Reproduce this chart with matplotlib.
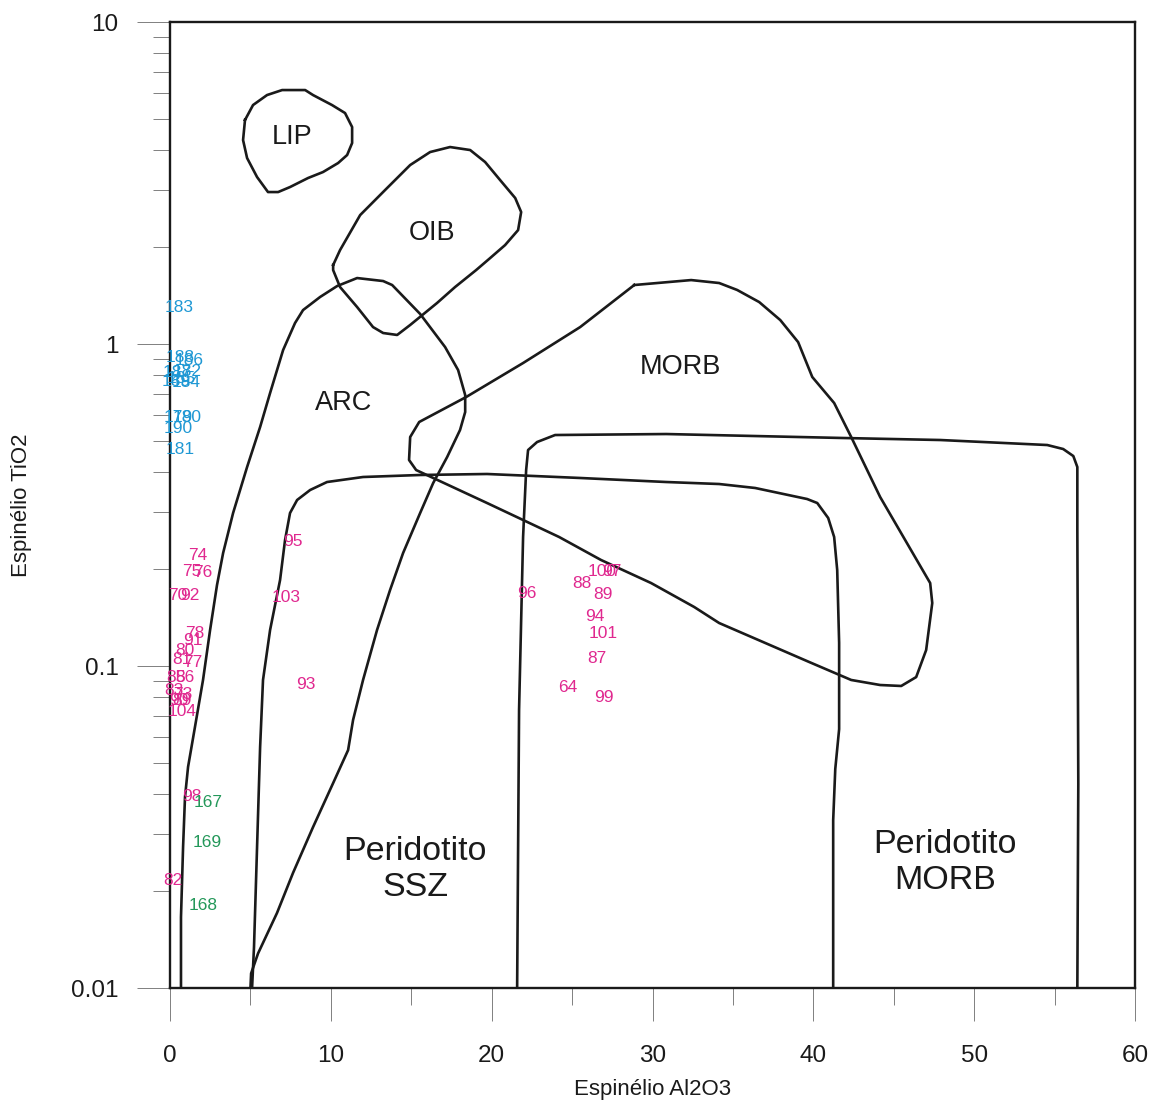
'''Spinel Al2O3 vs TiO2 discrimination diagram.'''
import matplotlib
matplotlib.use('Agg')
import matplotlib.pyplot as plt
from matplotlib.ticker import FixedLocator, NullFormatter, FuncFormatter

plt.rcParams['font.family'] = ['Liberation Sans', 'DejaVu Sans']

# field boundaries (Al2O3 wt%, TiO2 wt%)
lip_x = [4.66, 5.16, 6.03, 6.97, 8.40, 8.89, 10.07, 10.88, 11.32, 11.32, 11.01, 10.45,
         9.51, 8.58, 7.46, 6.72, 6.09, 5.41, 4.79, 4.54, 4.66]
lip_y = [4.963, 5.524, 5.933, 6.149, 6.149, 5.933, 5.524, 5.217, 4.720, 4.210, 3.864, 3.649,
         3.421, 3.278, 3.073, 2.965, 2.965, 3.301, 3.781, 4.300, 4.963]

oib_x = [10.14, 10.57, 11.82, 13.37, 14.93, 16.17, 17.41, 18.66, 19.59, 20.52, 21.46, 21.83,
         21.64, 20.83, 19.90, 19.03, 17.72, 16.60, 14.93, 14.12, 13.25, 12.62, 11.63, 10.57,
         10.14, 10.14]
oib_y = [1.759, 1.958, 2.515, 3.008, 3.597, 3.947, 4.091, 4.004, 3.675, 3.231, 2.841, 2.570,
         2.259, 2.029, 1.849, 1.697, 1.503, 1.341, 1.146, 1.067, 1.082, 1.129, 1.303, 1.503,
         1.697, 1.759]

arc_x = [0.68, 0.68, 0.81, 0.93, 1.12, 1.55, 2.05, 2.49, 2.92, 3.30, 3.92, 4.79, 5.60, 6.22,
         7.03, 7.77, 8.27, 9.33, 10.39, 11.63, 13.25, 13.81, 15.55, 17.10, 17.91, 18.35, 18.35,
         18.03, 17.23, 16.36, 15.55, 14.49, 13.68, 12.87, 12.00, 11.38, 11.07, 10.14, 8.89,
         7.65, 6.65, 5.47, 5.04, 5.00]
arc_y = [0.01, 0.0166, 0.0274, 0.0392, 0.0486, 0.0647, 0.0905, 0.1294, 0.1785, 0.2244, 0.2987,
         0.4150, 0.5525, 0.7044, 0.9581, 1.162, 1.275, 1.400, 1.514, 1.603, 1.569, 1.525, 1.240,
         0.9788, 0.8303, 0.6944, 0.6149, 0.5408, 0.4459, 0.3701, 0.2987, 0.2244, 0.1722, 0.1294,
         0.0905, 0.0680, 0.0548, 0.0433, 0.0316, 0.0228, 0.0171, 0.0128, 0.0111, 0.01]

morb_x = [28.86, 32.40, 34.14, 35.26, 36.63, 37.94, 39.05, 39.93, 41.29, 42.35, 44.15, 47.26,
          47.39, 47.01, 46.39, 45.46, 44.15, 42.35, 39.74, 34.14, 32.59, 29.91, 26.80, 24.19,
          19.71, 15.30, 14.86, 14.93, 15.49, 18.41, 21.95, 25.50, 28.86]
morb_y = [1.525, 1.580, 1.547, 1.472, 1.350, 1.187, 1.014, 0.790, 0.6559, 0.5143, 0.3349,
          0.1810, 0.1569, 0.1121, 0.0924, 0.0867, 0.0873, 0.0905, 0.1029, 0.1360, 0.1525,
          0.1810, 0.2134, 0.2516, 0.3208, 0.4061, 0.4364, 0.5143, 0.5726, 0.6846, 0.8730,
          1.129, 1.525]

ssz_x = [5.10, 5.22, 5.41, 5.60, 5.78, 6.22, 6.84, 7.15, 7.46, 7.90, 8.71, 9.76, 12.00, 15.55,
         19.71, 25.50, 30.85, 34.14, 36.38, 39.61, 40.24, 40.92, 41.29, 41.48, 41.60, 41.60,
         41.36, 41.23, 41.23]
ssz_y = [0.01, 0.0134, 0.0274, 0.0560, 0.0905, 0.1294, 0.1849, 0.2462, 0.2987, 0.3278, 0.3521,
         0.3728, 0.3864, 0.3920, 0.3948, 0.3837, 0.3728, 0.3675, 0.3572, 0.3301, 0.3208,
         0.2882, 0.2516, 0.1987, 0.1179, 0.0637, 0.0479, 0.0332, 0.01]

pmorb_x = [21.58, 21.70, 21.95, 22.14, 22.26, 22.82, 23.94, 30.85, 41.92, 47.89, 54.54, 55.53,
           56.16, 56.41, 56.41, 56.47, 56.41]
pmorb_y = [0.01, 0.0730, 0.2516, 0.4061, 0.4686, 0.4962, 0.5217, 0.5254, 0.5106, 0.5034,
           0.4857, 0.4720, 0.4489, 0.4150, 0.2664, 0.0430, 0.01]

# samples
pink_labels = ['74', '75', '76', '70', '92', '78', '91', '80', '81', '77', '85', '86', '83',
               '73', '90', '89', '104', '98', '82', '95', '103', '93', '96', '88', '100', '97',
               '89', '94', '101', '87', '64', '99']
pink_x = [1.74, 1.37, 2.05, 0.50, 1.24, 1.55, 1.43, 0.93, 0.75, 1.43, 0.37, 0.93, 0.25,
          0.81, 0.56, 0.75, 0.75, 1.37, 0.19, 7.65, 7.21, 8.46, 22.2, 25.62, 26.87, 27.49,
          26.93, 26.43, 26.93, 26.55, 24.75, 26.99]
pink_y = [0.221, 0.1959, 0.1953, 0.1650, 0.1650, 0.1266, 0.1204, 0.1121, 0.1044, 0.1029,
          0.0924, 0.0924, 0.0842, 0.0818, 0.0784, 0.0784, 0.0720, 0.0392, 0.0215, 0.2444,
          0.1638, 0.0879, 0.1685, 0.1798, 0.1972, 0.1972, 0.1662, 0.1420, 0.1266, 0.1059,
          0.0855, 0.0801]

blue_labels = ['183', '188', '186', '182', '187', '184', '189', '185', '179', '180', '190', '181']
blue_x = [0.56, 0.62, 1.18, 1.06, 0.44, 1.00, 0.37, 0.68, 0.50, 1.06, 0.50, 0.62]
blue_y = [1.303, 0.911, 0.892, 0.824, 0.813, 0.762, 0.767, 0.784, 0.593, 0.593, 0.548, 0.472]

green_labels = ['167', '169', '168']
green_x = [2.36, 2.30, 2.05]
green_y = [0.0378, 0.0284, 0.0181]

fields = [(lip_x, lip_y), (oib_x, oib_y), (arc_x, arc_y), (morb_x, morb_y),
          (ssz_x, ssz_y), (pmorb_x, pmorb_y)]

field_names = ['LIP', 'OIB', 'ARC', 'MORB', 'Peridotito\nSSZ', 'Peridotito\nMORB']
field_name_x = [7.59, 16.29, 10.82, 31.72, 15.24, 48.2]
field_name_y = [4.395, 2.211, 0.656, 0.848, 0.0233, 0.0246]
field_name_size = [19.5, 19.5, 19.5, 19.5, 24.5, 24.5]

fig = plt.figure(figsize=(11.56, 11.08), dpi=100)
ax = fig.add_axes([0.1471, 0.1083, 0.8348, 0.8718])

for fx, fy in fields:
    ax.plot(fx, fy, color='#1a1a1a', linewidth=1.9, solid_joinstyle='round')

for name, nx, ny, size in zip(field_names, field_name_x, field_name_y, field_name_size):
    ax.text(nx, ny, name, fontsize=size, color='#1a1a1a', ha='center', va='center',
            linespacing=1.2)

for labels, xs, ys, col in [(pink_labels, pink_x, pink_y, '#e0288f'),
                            (blue_labels, blue_x, blue_y, '#1f98d4'),
                            (green_labels, green_x, green_y, '#24985a')]:
    for lab, px, py in zip(labels, xs, ys):
        ax.text(px, py, lab, fontsize=12.5, color=col, ha='center', va='center')

ax.set_yscale('log')
ax.set_xlim(0, 60)
ax.set_ylim(0.01, 10)

ax.xaxis.set_major_locator(FixedLocator([0, 10, 20, 30, 40, 50, 60]))
ax.xaxis.set_minor_locator(FixedLocator([5, 15, 25, 35, 45, 55]))
ax.yaxis.set_major_locator(FixedLocator([0.01, 0.1, 1, 10]))
ax.yaxis.set_minor_locator(FixedLocator([m * 10.0 ** e for e in (-2, -1, 0)
                                         for m in range(2, 10)]))
ax.yaxis.set_major_formatter(FuncFormatter(lambda v, p: '%g' % v))
ax.yaxis.set_minor_formatter(NullFormatter())

ax.tick_params(which='major', direction='out', length=24, width=0.7, color='#808080',
               labelsize=17.5, labelcolor='#1a1a1a', pad=13)
ax.tick_params(which='minor', direction='out', length=12, width=0.7, color='#808080')
ax.tick_params(axis='x', which='major', pad=17)

for spine in ax.spines.values():
    spine.set_linewidth(1.7)
    spine.set_color('#1a1a1a')

ax.set_xlabel('Espinélio Al2O3', fontsize=16, color='#1a1a1a', labelpad=9)
ax.set_ylabel('Espinélio TiO2', fontsize=16, color='#1a1a1a', labelpad=28)

plt.savefig('out.png', dpi=100)
plt.close()
